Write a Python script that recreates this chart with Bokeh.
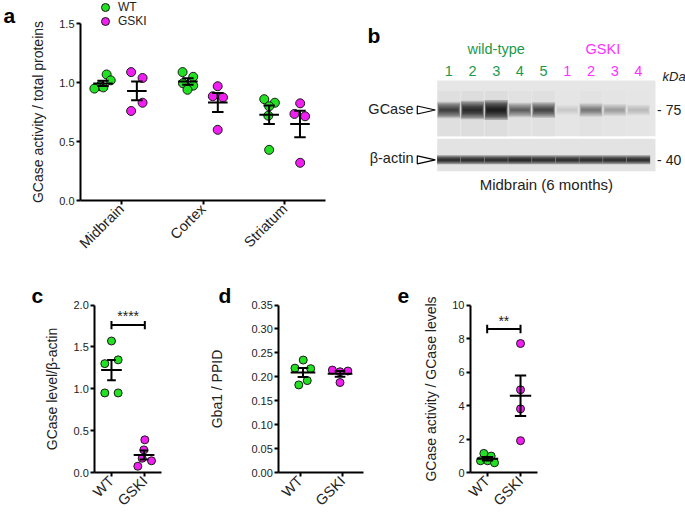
import math
import numpy as np
from bokeh.plotting import figure
from bokeh.layouts import row, column
from bokeh.models import Range1d, FixedTicker, Label, Legend, LegendItem, NumeralTickFormatter
from bokeh.core.properties import value
from bokeh.embed import file_html
from bokeh.resources import INLINE

FONT = "Liberation Sans"
GREEN = "#22e022"
MAGENTA = "#f01ef0"
TXT_GREEN = "#1a9a4a"
TXT_MAGENTA = "#ff30ff"
INK = "#222222"

# ---------------- data ----------------
# panel a : GCase activity / total proteins
regions = ["Midbrain", "Cortex", "Striatum"]
a_wt = [[1.07, 1.02, 0.97, 0.95, 0.96],
        [1.09, 1.05, 0.995, 0.975, 0.94],
        [0.86, 0.83, 0.80, 0.72, 0.43]]
a_gski = [[1.09, 1.04, 0.83, 0.76],
          [0.97, 0.885, 0.875, 0.60],
          [0.825, 0.735, 0.715, 0.32]]
a_wt_dx = [[-0.18, -0.13, -0.26, -0.33, -0.22],
           [-0.25, -0.12, -0.245, -0.12, -0.19],
           [-0.25, -0.12, -0.19, -0.20, -0.19]]
a_gski_dx = [[0.12, 0.26, 0.26, 0.12],
             [0.18, 0.12, 0.245, 0.18],
             [0.19, 0.12, 0.25, 0.19]]
a_yticks = [0.0, 0.5, 1.0, 1.5]

# panel b : western blot (relative band intensities per lane)
b_groups = ["wild-type", "GSKI"]
b_wt_lanes = ["1", "2", "3", "4", "5"]
b_gski_lanes = ["1", "2", "3", "4"]
b_gcase = [0.65, 0.85, 1.0, 0.45, 0.6, 0.06, 0.35, 0.22, 0.12]
b_actin = [0.9, 0.9, 0.9, 0.95, 0.9, 0.88, 0.9, 0.88, 0.9]
b_markers = ["- 75", "- 40"]
b_rows = ["GCase", "β-actin"]
b_caption = "Midbrain (6 months)"

# panel c : GCase level / beta-actin
groups = ["WT", "GSKI"]
c_wt = [1.57, 1.30, 1.345, 0.95, 0.95]
c_gski = [0.39, 0.27, 0.17, 0.14, 0.075]
c_wt_dx = [0.0, -0.2, 0.2, -0.2, 0.2]
c_gski_dx = [0.0, -0.03, -0.08, 0.2, -0.21]
c_yticks = [0.0, 0.5, 1.0, 1.5, 2.0]
c_sig = "****"

# panel d : Gba1 / PPID
d_wt = [0.235, 0.218, 0.217, 0.192, 0.183]
d_gski = [0.214, 0.212, 0.2105, 0.188]
d_wt_dx = [0.075, -0.12, 0.25, 0.17, -0.03]
d_gski_dx = [-0.24, 0.125, -0.06, -0.06]
d_yticks = [0.0, 0.05, 0.10, 0.15, 0.20, 0.25, 0.30, 0.35]

# panel e : GCase activity / GCase levels
e_wt = [1.14, 0.98, 0.70, 0.70, 0.58]
e_gski = [7.7, 4.94, 3.8, 1.9]
e_wt_dx = [-0.1, 0.12, -0.2, 0.015, 0.22]
e_gski_dx = [0.0, 0.0, 0.0, 0.0]
e_yticks = [0, 2, 4, 6, 8, 10]
e_sig = "**"


# ---------------- helpers ----------------
def make_panel(width, height, box, xlim, ylim):
    """box = (left, right, top, bottom) pixel position of the axes inside the figure."""
    l, r, t, b = box
    x0, x1 = xlim
    y0, y1 = ylim
    sx = (r - l) / (x1 - x0)
    sy = (b - t) / (y1 - y0)
    xr = Range1d(x0 - l / sx, x1 + (width - r) / sx)
    yr = Range1d(y0 - (height - b) / sy, y1 + t / sy)
    p = figure(width=width, height=height, x_range=xr, y_range=yr,
               output_backend="svg", toolbar_location=None,
               min_border=0, min_border_left=0, min_border_right=0,
               min_border_top=0, min_border_bottom=0)
    p.background_fill_color = "white"
    p.border_fill_color = "white"
    p.outline_line_color = None
    p.grid.visible = False
    p.yaxis.fixed_location = x0
    p.yaxis.bounds = (y0, y1)
    p.xaxis.fixed_location = y0
    p.xaxis.bounds = (x0, x1)
    return p


def style_axes(p, xticks, xlabels, yticks, yfmt, ylabel, standoff):
    for ax in (p.xaxis[0], p.yaxis[0]):
        ax.axis_line_width = 2
        ax.axis_line_color = "black"
        ax.major_tick_line_width = 2
        ax.major_tick_line_color = "black"
        ax.major_tick_out = 4
        ax.major_tick_in = 0
        ax.minor_tick_line_color = None
        ax.major_label_text_font = FONT
        ax.major_label_text_color = INK
        ax.major_label_standoff = 2
        ax.axis_label_text_font = FONT
        ax.axis_label_text_font_style = "normal"
        ax.axis_label_text_font_size = "14px"
        ax.axis_label_text_color = INK
    p.yaxis.ticker = FixedTicker(ticks=yticks)
    p.yaxis.formatter = NumeralTickFormatter(format=yfmt)
    p.yaxis.major_label_text_font_size = "11px"
    p.yaxis.axis_label = ylabel
    p.yaxis.axis_label_standoff = standoff
    p.xaxis.ticker = FixedTicker(ticks=xticks)
    p.xaxis.major_label_overrides = {t: l for t, l in zip(xticks, xlabels)}
    p.xaxis.major_label_text_font_size = "14.5px"
    p.xaxis.major_label_orientation = math.pi / 4


def draw_group(p, xc, vals, dx, color, size, half, cap):
    vals = np.asarray(vals, float)
    dx = np.asarray(dx, float)
    r = p.scatter(x=xc + dx, y=vals, size=size, fill_color=color,
                  line_color="#1a1a1a", line_width=1)
    m = vals.mean()
    sem = vals.std(ddof=1) / math.sqrt(len(vals))
    c = xc + dx.mean()
    p.segment(x0=[c - half, c, c - cap, c - cap], y0=[m, m - sem, m + sem, m - sem],
              x1=[c + half, c, c + cap, c + cap], y1=[m, m + sem, m + sem, m - sem],
              line_color="black", line_width=2)
    return r


def letter(p, text, x, baseline):
    p.add_layout(Label(x=x, y=p.height - baseline, x_units="screen", y_units="screen",
                       text=text, text_font=FONT, text_font_style="bold",
                       text_font_size="21px", text_color="black",
                       text_baseline="alphabetic"))


def sig_bar(p, x0, x1, y, cap, text, ty):
    p.segment(x0=[x0, x0, x1], y0=[y, y - cap, y - cap], x1=[x1, x0, x1], y1=[y, y + cap, y + cap],
              line_color="black", line_width=2)
    p.text(x=[(x0 + x1) / 2], y=[ty], text=[text], text_font=value(FONT),
           text_font_size="14px", text_align="center", text_baseline="alphabetic",
           text_color=INK)


def legend_item(p, label, renderer, center_x, center_y):
    lg = Legend(items=[LegendItem(label=label, renderers=[renderer])],
                location=(center_x - 10, p.height - (center_y + 10)), orientation="vertical",
                padding=0, margin=0, spacing=0, glyph_width=20, glyph_height=20,
                label_height=14, label_standoff=3, border_line_color=None,
                background_fill_alpha=0, label_text_font=FONT, label_text_font_size="12px",
                label_text_color=INK)
    p.add_layout(lg)


# ---------------- panel a ----------------
pa = make_panel(348, 266, (80, 325, 23.3, 200), (0.5, 3.5), (0, 1.5))
style_axes(pa, [1, 2, 3], regions, a_yticks, "0.0", "GCase activity / total proteins", 10)
for i, reg in enumerate(regions):
    xc = i + 1
    rw = draw_group(pa, xc, a_wt[i], a_wt_dx[i], GREEN, 9, 0.12, 0.07)
    rg = draw_group(pa, xc, a_gski[i], a_gski_dx[i], MAGENTA, 9, 0.12, 0.07)
    if i == 0:
        r_wt_a, r_gs_a = rw, rg
legend_item(pa, groups[0], r_wt_a, 105, 7)
legend_item(pa, groups[1], r_gs_a, 105, 21)
letter(pa, "a", 3, 15)

# ---------------- panel b ----------------
lane_px = 23.7
lanes = np.arange(len(b_wt_lanes) + len(b_gski_lanes), dtype=float)
x_start = -(448.3 - 348) / lane_px
pb = figure(width=337, height=266, x_range=Range1d(x_start, x_start + 337 / lane_px),
            y_range=Range1d(266, 0), output_backend="svg", toolbar_location=None,
            min_border=0, min_border_left=0, min_border_right=0, min_border_top=0,
            min_border_bottom=0)
pb.axis.visible = False
pb.grid.visible = False
pb.outline_line_color = None
pb.background_fill_color = "white"
pb.border_fill_color = "white"

wt_l = lanes[:len(b_wt_lanes)]
gs_l = lanes[len(b_wt_lanes):]
left_edge = lanes[0] - 0.49
right_edge = lanes[-1] + 0.72
up_top, up_bot, lo_top, lo_bot = 80, 135.7, 138.3, 170.7
up_y, lo_y = 109.5, 159.3

# blot membranes
pb.quad(left=[left_edge, left_edge], right=[right_edge, right_edge],
        top=[up_top, lo_top], bottom=[up_bot, lo_bot],
        fill_color=["#e6e6e6", "#e3e3e3"], line_color=None)
gi = np.asarray(b_gcase)
# faint lane haze
pb.rect(x=lanes, y=[up_y + 4] * len(lanes), width=0.95, height=46,
        fill_color="black", fill_alpha=0.04 * gi, line_color=None)
# GCase bands: many thin soft layers
n_layers = 7
for k in range(n_layers):
    f = 1 - k / n_layers
    pb.rect(x=lanes, y=[up_y] * len(lanes), width=0.78 + 0.2 * f,
            height=20 * (0.5 + 0.5 * gi) * f, fill_color="black",
            fill_alpha=0.24 * gi, line_color=None)
# actin bands
ai = np.asarray(b_actin)
for k in range(4):
    f = 1 - k / 4
    pb.rect(x=lanes, y=[lo_y] * len(lanes), width=0.94 + 0.06 * f,
            height=[9 * f] * len(lanes), fill_color="black",
            fill_alpha=0.35 * ai, line_color=None)

# lane labels and group labels
pb.text(x=list(lanes), y=[70] * len(lanes), text=b_wt_lanes + b_gski_lanes,
        text_color=[TXT_GREEN] * len(b_wt_lanes) + [TXT_MAGENTA] * len(b_gski_lanes),
        text_font=value(FONT), text_font_size="14.5px", text_align="center",
        text_baseline="middle")
pb.text(x=[wt_l.mean(), gs_l.mean()], y=[48, 48], text=b_groups,
        text_color=[TXT_GREEN, TXT_MAGENTA], text_font=value(FONT),
        text_font_size="14.5px", text_align="center", text_baseline="middle")
pb.text(x=[right_edge + 0.3], y=[76], text=["kDa"], text_color=INK, text_font=value(FONT),
        text_font_style="italic", text_font_size="13px", text_align="left",
        text_baseline="middle")
pb.text(x=[right_edge + 0.07] * 2, y=[up_y, lo_y], text=b_markers, text_color=INK,
        text_font=value(FONT), text_font_size="14px", text_align="left",
        text_baseline="middle")
pb.text(x=[left_edge - 1.0] * 2, y=[up_y - 1, lo_y - 2], text=b_rows, text_color=INK,
        text_font=value(FONT), text_font_size="14.5px", text_align="right",
        text_baseline="middle")
tx0, tx1 = left_edge - 0.84, left_edge - 0.08
pb.patches(xs=[[tx0, tx0, tx1], [tx0, tx0, tx1]],
           ys=[[up_y - 4, up_y + 4, up_y], [lo_y - 4, lo_y + 4, lo_y]],
           fill_color="white", line_color="black", line_width=1.2)
pb.text(x=[(left_edge + right_edge) / 2], y=[184], text=[b_caption], text_color=INK,
        text_font=value(FONT), text_font_size="15px", text_align="center",
        text_baseline="middle")
pb.text(x=[x_start + 19 / lane_px], y=[35], text=["b"], text_color="black",
        text_font=value(FONT), text_font_style="bold", text_font_size="21px",
        text_align="left", text_baseline="alphabetic")

# ---------------- panel c ----------------
pc = make_panel(200, 247, (94.3, 161, 38.5, 206), (0.5, 2.5), (0, 2.0))
style_axes(pc, [1, 2], groups, c_yticks, "0.0", "GCase level/β-actin", 10)
draw_group(pc, 1, c_wt, c_wt_dx, GREEN, 8, 0.31, 0.13)
draw_group(pc, 2, c_gski, c_gski_dx, MAGENTA, 8, 0.31, 0.13)
sig_bar(pc, 1, 2, 1.76, 0.05, c_sig, 1.87)
letter(pc, "c", 31, 29)

# ---------------- panel d ----------------
pd = make_panel(188, 247, (78.3, 163.3, 38.5, 206), (0.5, 2.5), (0, 0.35))
style_axes(pd, [1, 2], groups, d_yticks, "0.00", "Gba1 / PPID", 23)
draw_group(pd, 1, d_wt, d_wt_dx, GREEN, 8, 0.29, 0.125)
draw_group(pd, 2, d_gski, d_gski_dx, MAGENTA, 8, 0.29, 0.125)
letter(pd, "d", 18, 29)

# ---------------- panel e ----------------
pe = make_panel(297, 247, (82, 148.7, 38.5, 206), (0.5, 2.5), (0, 10))
style_axes(pe, [1, 2], groups, e_yticks, "0", "GCase activity / GCase levels", 10)
draw_group(pe, 1, e_wt, e_wt_dx, GREEN, 8, 0.32, 0.17)
draw_group(pe, 2, e_gski, e_gski_dx, MAGENTA, 8, 0.32, 0.17)
sig_bar(pe, 1, 2, 8.57, 0.25, e_sig, 9.05)
letter(pe, "e", 9, 29)

layout = column(row(pa, pb), row(pc, pd, pe))
open("out.html", "w").write(file_html(layout, INLINE))
